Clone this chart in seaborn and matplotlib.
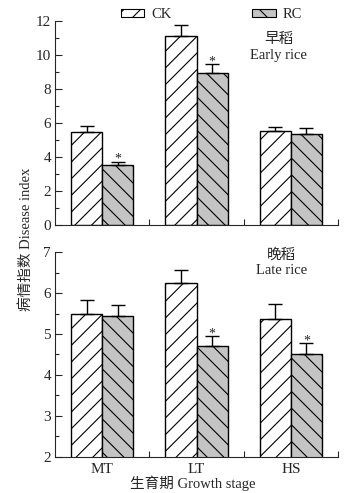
import pandas as pd
import matplotlib
matplotlib.use('Agg')
import matplotlib.pyplot as plt
import seaborn as sns
from matplotlib.patches import Patch
from matplotlib.ticker import MultipleLocator

# data
stages = ['MT', 'LT', 'HS']
treatments = ['CK', 'RC']

early_ck = [5.47, 11.12, 5.51]
early_ck_err = [0.33, 0.63, 0.28]
early_rc = [3.53, 8.93, 5.35]
early_rc_err = [0.20, 0.53, 0.35]
early_sig = [True, True, False]

late_ck = [5.48, 6.24, 5.36]
late_ck_err = [0.36, 0.33, 0.37]
late_rc = [5.44, 4.70, 4.51]
late_rc_err = [0.26, 0.25, 0.26]
late_sig = [False, True, True]

colors = {'CK': 'white', 'RC': '#c4c4c4'}
hatches = {'CK': '//', 'RC': '\\\\'}

sns.set_style('ticks')
plt.rcParams['font.family'] = ['Liberation Serif', 'Noto Sans CJK SC']
plt.rcParams['hatch.linewidth'] = 0.8
plt.rcParams['font.size'] = 10


def make_df(ck, rc):
    return pd.DataFrame({
        'stage': stages * 2,
        'treatment': ['CK'] * 3 + ['RC'] * 3,
        'value': ck + rc,
    })


def draw_panel(ax, ck, ck_err, rc, rc_err, sig):
    df = make_df(ck, rc)
    sns.barplot(data=df, x='stage', y='value', hue='treatment', hue_order=treatments,
                palette=colors, saturation=1, width=0.66, gap=0, edgecolor='black',
                linewidth=1, errorbar=None, legend=False, ax=ax)
    errs = {'CK': ck_err, 'RC': rc_err}
    vals = {'CK': ck, 'RC': rc}
    for cont, t in zip(ax.containers, treatments):
        xs = []
        for bar in cont:
            bar.set_hatch(hatches[t])
            xs.append(bar.get_x() + bar.get_width() / 2)
        ax.errorbar(xs, vals[t], yerr=[[0] * 3, errs[t]], fmt='none', ecolor='black',
                    elinewidth=1, capsize=5, capthick=1, zorder=1)
        if t == 'RC':
            for x, v, e, s in zip(xs, vals[t], errs[t], sig):
                if s:
                    ax.text(x, v + e - 0.02 * (ax.get_ylim()[1] - ax.get_ylim()[0]), '*',
                            ha='center', va='bottom', fontsize=10)
    ax.set_xlim(-0.5, 2.5)
    ax.set_xlabel('')
    ax.set_ylabel('')
    sns.despine(ax=ax)
    ax.set_xticks([0.5, 1.5, 2.5], minor=True)
    ax.tick_params(axis='x', which='minor', direction='in', length=4, width=0.8)
    ax.tick_params(axis='x', which='major', length=0, pad=5, labelsize=11)
    ax.tick_params(axis='y', which='major', direction='in', length=5, width=0.8, pad=3, labelsize=11)
    ax.tick_params(axis='y', which='minor', direction='in', length=3, width=0.8)
    for s in ['left', 'bottom']:
        ax.spines[s].set_linewidth(0.8)


fig = plt.figure(figsize=(3.51, 4.93), dpi=100)
ax1 = fig.add_axes([0.157, 0.544, 0.806, 0.413])
ax2 = fig.add_axes([0.157, 0.074, 0.806, 0.414])

ax1.set_ylim(0, 12)
draw_panel(ax1, early_ck, early_ck_err, early_rc, early_rc_err, early_sig)
ax1.set_ylim(0, 12)
ax1.yaxis.set_major_locator(MultipleLocator(2))
ax1.yaxis.set_minor_locator(MultipleLocator(1))
ax1.set_xticklabels([])
ax1.text(0.79, 0.91, '早稻', transform=ax1.transAxes, ha='center', va='center', fontsize=10.5)
ax1.text(0.79, 0.83, 'Early rice', transform=ax1.transAxes, ha='center', va='center', fontsize=10.5)

ax2.set_ylim(2, 7)
draw_panel(ax2, late_ck, late_ck_err, late_rc, late_rc_err, late_sig)
ax2.set_ylim(2, 7)
ax2.yaxis.set_major_locator(MultipleLocator(1))
ax2.yaxis.set_minor_locator(MultipleLocator(0.5))
ax2.text(0.80, 0.985, '晚稻', transform=ax2.transAxes, ha='center', va='center', fontsize=10.5)
ax2.text(0.80, 0.91, 'Late rice', transform=ax2.transAxes, ha='center', va='center', fontsize=10.5)

fig.text(0.55, 0.02, '生育期 Growth stage', ha='center', va='center', fontsize=10.5)
fig.text(0.075, 1 - 239 / 493, '病情指数 Disease index', ha='center', va='center',
         rotation=90, fontsize=10.5)

handles = [Patch(facecolor=colors[t], edgecolor='black', hatch=hatches[t], linewidth=0.8)
           for t in treatments]
fig.legend(handles, treatments, ncol=2, loc='center', bbox_to_anchor=(0.603, 0.970),
           frameon=False, handlelength=1.6, handleheight=0.5, handletextpad=0.5,
           columnspacing=5.5, fontsize=10.5)

fig.savefig('out.png', dpi=100)
